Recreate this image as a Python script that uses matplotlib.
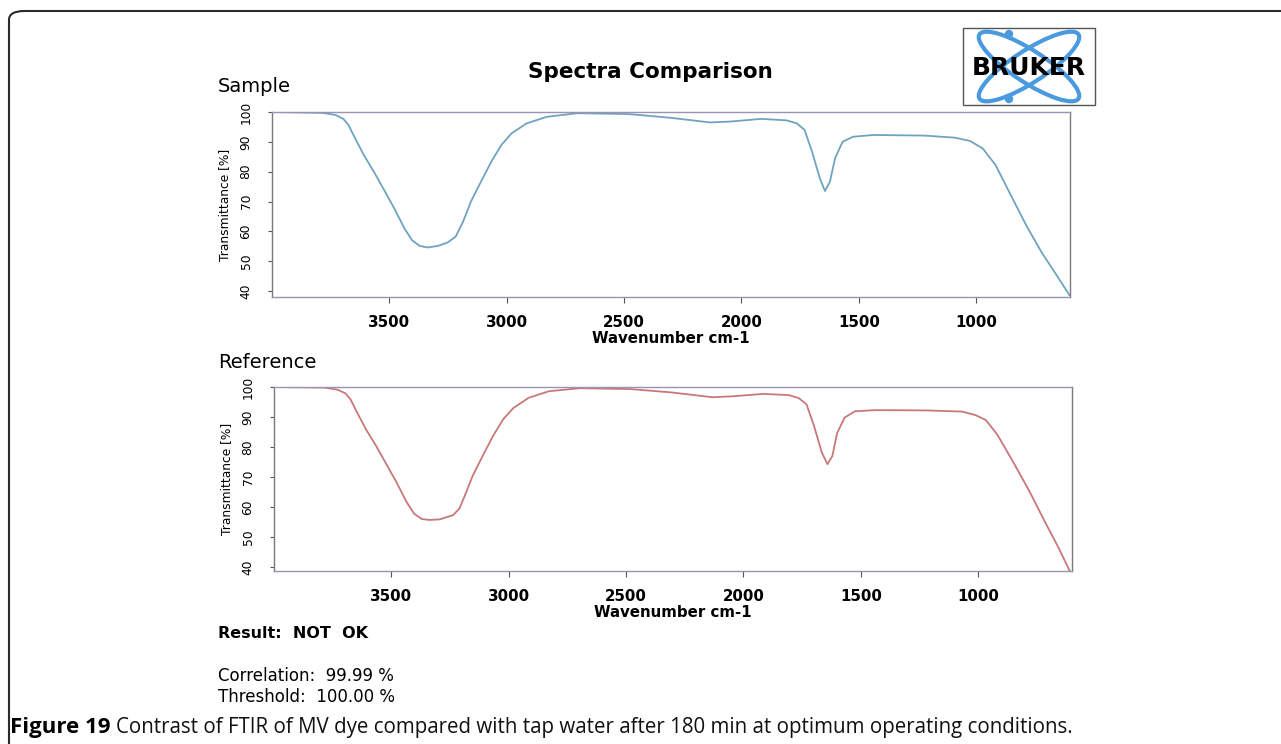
import matplotlib
matplotlib.use("Agg")
import matplotlib.pyplot as plt
from matplotlib.patches import FancyBboxPatch, Ellipse, Circle, Rectangle

W, H = 1281, 744

# sample spectrum (wavenumber cm-1, transmittance %)
sample_wn = [4000, 3783, 3729, 3696, 3674, 3653, 3609, 3566, 3522, 3479, 3436, 3403,
             3370, 3338, 3294, 3251, 3218, 3186, 3153, 3110, 3066, 3023, 2980, 2915,
             2828, 2697, 2480, 2307, 2133, 2046, 1916, 1807, 1764, 1731, 1699, 1666,
             1644, 1623, 1601, 1569, 1525, 1438, 1221, 1091, 1026, 972, 917, 852,
             787, 722, 657, 602]
sample_t = [100.0, 99.7, 99.0, 97.7, 95.6, 92.3, 85.6, 80.0, 73.8, 67.7, 61.0, 57.0,
            55.1, 54.6, 55.1, 56.3, 58.2, 63.2, 69.9, 76.6, 83.3, 88.9, 92.8, 96.2,
            98.4, 99.6, 99.3, 98.1, 96.5, 96.8, 97.7, 97.2, 96.2, 94.0, 86.7, 77.8,
            73.5, 76.6, 84.5, 90.0, 91.7, 92.3, 92.1, 91.4, 90.3, 87.8, 82.2, 72.1,
            62.1, 53.1, 45.3, 38.6]

# reference spectrum
ref_wn = [4000, 3783, 3729, 3696, 3674, 3653, 3609, 3566, 3522, 3479, 3436, 3403,
          3370, 3338, 3294, 3237, 3210, 3186, 3153, 3110, 3066, 3023, 2980, 2915,
          2828, 2697, 2480, 2307, 2133, 2046, 1916, 1807, 1764, 1731, 1699, 1666,
          1642, 1621, 1601, 1569, 1525, 1438, 1221, 1067, 1010, 967, 917, 852,
          783, 712, 657, 606]
ref_t = [100.0, 99.8, 99.1, 97.9, 95.9, 92.6, 86.0, 80.5, 74.4, 68.4, 61.8, 57.8,
         56.0, 55.7, 55.9, 57.3, 59.5, 64.0, 70.5, 77.2, 83.8, 89.3, 93.0, 96.4,
         98.6, 99.6, 99.3, 98.2, 96.6, 96.9, 97.7, 97.3, 96.3, 94.2, 87.0, 78.2,
         74.3, 77.0, 84.6, 89.8, 91.9, 92.3, 92.2, 91.8, 90.6, 89.0, 84.0, 75.2,
         65.5, 54.6, 46.4, 38.1]

xticks = [3500, 3000, 2500, 2000, 1500, 1000]
yticks = [40, 50, 60, 70, 80, 90, 100]


def px(x0, y0, x1, y1):
    return [x0 / W, 1 - y1 / H, (x1 - x0) / W, (y1 - y0) / H]


fig = plt.figure(figsize=(W / 100, H / 100), dpi=100, facecolor='w')

# outer rounded border
fig.patches.append(FancyBboxPatch((9 / W, -0.05), 1.1, 1 - 11 / H + 0.05,
                                  boxstyle="round,pad=0,rounding_size=0.012",
                                  transform=fig.transFigure, fill=False,
                                  edgecolor='#2a2a2a', linewidth=1.5))


def spectrum(rect, wn, t, color, ylo):
    ax = fig.add_axes(rect)
    ax.plot(wn, t, color=color, linewidth=1.3, solid_joinstyle='round',
            solid_capstyle='round')
    ax.set_xlim(4000, 600)
    ax.set_ylim(ylo, 100)
    ax.set_xticks(xticks)
    ax.set_yticks(yticks)
    for s in ['top', 'bottom']:
        ax.spines[s].set_color('#9b93b3')
    for s in ['left', 'right']:
        ax.spines[s].set_color('#7a7a7a')
    for s in ax.spines.values():
        s.set_linewidth(1.0)
    ax.tick_params(axis='x', length=4, width=0.8, color='#555555', pad=9,
                   labelsize=10.8)
    ax.tick_params(axis='y', length=3, width=0.8, color='#555555', pad=11,
                   labelsize=8.8, labelrotation=90)
    for lab in ax.get_xticklabels():
        lab.set_fontweight('bold')
    for lab in ax.get_yticklabels():
        lab.set_verticalalignment('center')
    ax.set_xlabel("Wavenumber cm-1", fontsize=10.8, fontweight='bold', labelpad=1)
    ax.set_ylabel("Transmittance [%]", fontsize=8.8, labelpad=6)
    return ax


spectrum(px(272, 112, 1070, 297), sample_wn, sample_t, '#6fa3c0', 38.0)
spectrum(px(274, 387, 1072, 571), ref_wn, ref_t, '#c9787a', 38.7)

fig.text(218 / W, 1 - 87 / H, "Sample", fontsize=14, va='center')
fig.text(218 / W, 1 - 362 / H, "Reference", fontsize=14, va='center')
fig.text(650 / W, 1 - 72 / H, "Spectra Comparison", fontsize=15.5,
         fontweight='bold', ha='center', va='center')

# logo
lax = fig.add_axes(px(963, 28, 1095, 105))
lax.set_xlim(0, 132)
lax.set_ylim(77, 0)
lax.axis('off')
lax.add_patch(Rectangle((0, 0), 132, 77, fill=False, edgecolor='#555555',
                        linewidth=1.0, clip_on=False))
for ang in (33, -33):
    lax.add_patch(Ellipse((66, 38.5), 118, 32, angle=ang, fill=False,
                          edgecolor='#4a9ae0', linewidth=3.0, clip_on=False))
lax.add_patch(Circle((46, 6), 3.5, color='#4a9ae0', clip_on=False))
lax.add_patch(Circle((46, 71), 3.5, color='#4a9ae0', clip_on=False))
lax.text(66, 40, "BRUKER", fontsize=18, fontweight='bold', ha='center',
         va='center', color='black')

fig.text(218 / W, 1 - 633 / H, "Result:  NOT  OK", fontsize=11.5,
         fontweight='bold', va='center')
fig.text(218 / W, 1 - 676 / H, "Correlation:  99.99 %", fontsize=12,
         va='center')
fig.text(218 / W, 1 - 697 / H, "Threshold:  100.00 %", fontsize=12,
         va='center')

cap_bold = fig.text(10 / W, 1 - 727 / H, "Figure 19", fontsize=16,
                    fontweight='bold', family='Open Sans', va='center')
fig.canvas.draw()
bb = cap_bold.get_window_extent()
fig.text(bb.x1 / W + 6 / W, 1 - 727 / H,
         "Contrast of FTIR of MV dye compared with tap water after 180 min at optimum operating conditions.",
         fontsize=14.8, family='Open Sans', va='center', color='#111111')

fig.savefig("out.png", dpi=100, facecolor='w')
